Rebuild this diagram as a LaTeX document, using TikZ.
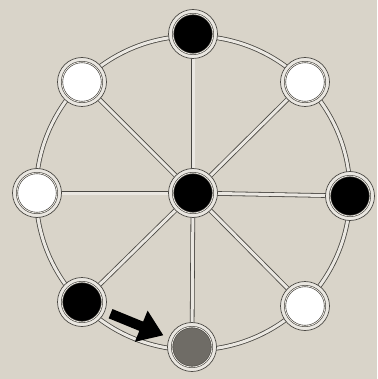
\documentclass[tikz,border=0pt]{standalone}
\usetikzlibrary{arrows.meta}
\definecolor{paper}{HTML}{D9D4C9}
\definecolor{inkgray}{HTML}{4A4843}
\definecolor{stonegray}{HTML}{6F6C66}
\pgfdeclarelayer{sheet}
\pgfdeclarelayer{wires}
\pgfsetlayers{sheet,wires,main}

\begin{document}
\begin{tikzpicture}[x=1pt, y=-1pt,
  spoke/.style={draw=inkgray, line width=0.8pt, double=paper!55!white, double distance=3pt},
  ring/.style={circle, draw=inkgray, line width=0.7pt, fill=paper!55!white,
              minimum size=49pt, inner sep=0pt},
  stone/.style={circle, draw=inkgray, line width=0.6pt, double=paper!55!white,
              double distance=0.8pt, minimum size=40pt, inner sep=0pt},
  move/.style={-{Triangle[length=24pt,width=32pt]}, line width=10pt, color=black,
              shorten <=6pt, shorten >=6pt},
]
%% --- Paper ---
\begin{pgfonlayer}{sheet}
\fill[paper] (0,0) rectangle (377,379);
\end{pgfonlayer}
\useasboundingbox (0,0) rectangle (377,379);

%% --- Rings ---
\node[ring] (p0) at (193,193) {};
\node[ring] (p1) at (193,34) {};
\node[ring] (p2) at (305,82) {};
\node[ring] (p3) at (350,196) {};
\node[ring] (p4) at (305,306) {};
\node[ring] (p5) at (192,347) {};
\node[ring] (p6) at (82,302) {};
\node[ring] (p7) at (37,193) {};
\node[ring] (p8) at (82,82) {};

%% --- Stones ---
\node[stone, fill=black] (s0) at (p0) {};
\node[stone, fill=black] (s1) at (p1) {};
\node[stone, fill=white] (s2) at (p2) {};
\node[stone, fill=black] (s3) at (p3) {};
\node[stone, fill=white] (s4) at (p4) {};
\node[stone, fill=stonegray] (s5) at (p5) {};
\node[stone, fill=black] (s6) at (p6) {};
\node[stone, fill=white] (s7) at (p7) {};
\node[stone, fill=white] (s8) at (p8) {};

%% --- Rim and spokes (behind the rings) ---
\begin{pgfonlayer}{wires}
\draw[spoke] (p0.center) circle (157);
\draw[spoke] (p0.center) -- (p1.center);
\draw[spoke] (p0.center) -- (p2.center);
\draw[spoke] (p0.center) -- (p3.center);
\draw[spoke] (p0.center) -- (p4.center);
\draw[spoke] (p0.center) -- (p5.center);
\draw[spoke] (p0.center) -- (p6.center);
\draw[spoke] (p0.center) -- (p7.center);
\draw[spoke] (p0.center) -- (p8.center);
\end{pgfonlayer}

%% --- Move ---
\draw[move] (p6) -- (p5);
\end{tikzpicture}
\end{document}
